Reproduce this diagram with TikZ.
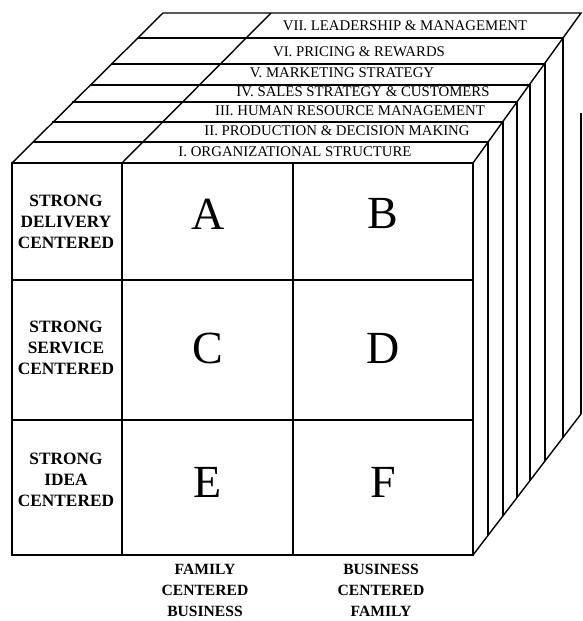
\documentclass[tikz,border=0pt]{standalone}
\usepackage{fontspec}
\setmainfont{Liberation Serif}

\tikzset{
  edge/.style={line width=1.4pt},
  layerlbl/.style={font=\fontsize{14.8}{16}\selectfont, inner sep=0pt},
  rowlbl/.style={font=\fontsize{17.3}{21}\selectfont\bfseries, align=center, inner sep=0pt},
  collbl/.style={font=\fontsize{15.6}{21}\selectfont\bfseries, align=center, inner sep=0pt},
  cell/.style={font=\fontsize{46}{46}\selectfont, inner sep=0pt}
}

\begin{document}
\begin{tikzpicture}[x=1pt,y=-1pt]
    \useasboundingbox (0,0) rectangle (582,621);
    % front face and its grid
    \draw[edge] (12,163) rectangle (473,555);
    \draw[edge] (122,163) -- (122,555);  \draw[edge] (293,163) -- (293,555);
    \draw[edge] (12,280) -- (473,280);  \draw[edge] (12,420) -- (473,420);
    % depth edges of the block
    \draw[edge] (12,163) -- (163,13) -- (581,13) -- (473,163);
    \draw[edge] (122,163) -- (271,13);
    \draw[edge] (473,555) -- (581,414);
    % layer boundaries: top line and right face line
    \foreach \y/\xl/\xr/\yb in {142/33.1/488/535.4, 122/52.3/503/515.8,
        102/72.4/517/497.6, 85/89.5/530/480.6, 64/110.7/545/461,
        38/137.8/563/437.5}
      \draw[edge] (\xl,\y) -- (\xr,\y) -- (\xr,\yb);
    \draw[edge] (581,113) -- (581,414);
    % layer names
    \node[layerlbl] (lay7) at (405,26) {VII. LEADERSHIP \& MANAGEMENT};
    \node[layerlbl] (lay6) at (359,52) {VI. PRICING \& REWARDS};
    \node[layerlbl] (lay5) at (342,73) {V. MARKETING STRATEGY};
    \node[layerlbl] (lay4) at (363,92) {IV. SALES STRATEGY \& CUSTOMERS};
    \node[layerlbl] (lay3) at (350,111) {III. HUMAN RESOURCE MANAGEMENT};
    \node[layerlbl] (lay2) at (337,131) {II. PRODUCTION \& DECISION MAKING};
    \node[layerlbl] (lay1) at (295,152) {I. ORGANIZATIONAL STRUCTURE};
    % row labels
    \node[rowlbl] (delivery) at (66,222) {STRONG\\DELIVERY\\CENTERED};
    \node[rowlbl] (service) at (66,348) {STRONG\\SERVICE\\CENTERED};
    \node[rowlbl] (idea) at (66,480) {STRONG\\IDEA\\CENTERED};
    % cells
    \node[cell] (cA) at (208,214) {A}; \node[cell] (cB) at (383,214) {B};
    \node[cell] (cC) at (208,348) {C}; \node[cell] (cD) at (383,348) {D};
    \node[cell] (cE) at (208,482) {E}; \node[cell] (cF) at (383,482) {F};
    % column labels
    \node[collbl] (famcent) at (205,590) {FAMILY\\CENTERED\\BUSINESS};
    \node[collbl] (buscent) at (381,590) {BUSINESS\\CENTERED\\FAMILY};
\end{tikzpicture}
\end{document}
